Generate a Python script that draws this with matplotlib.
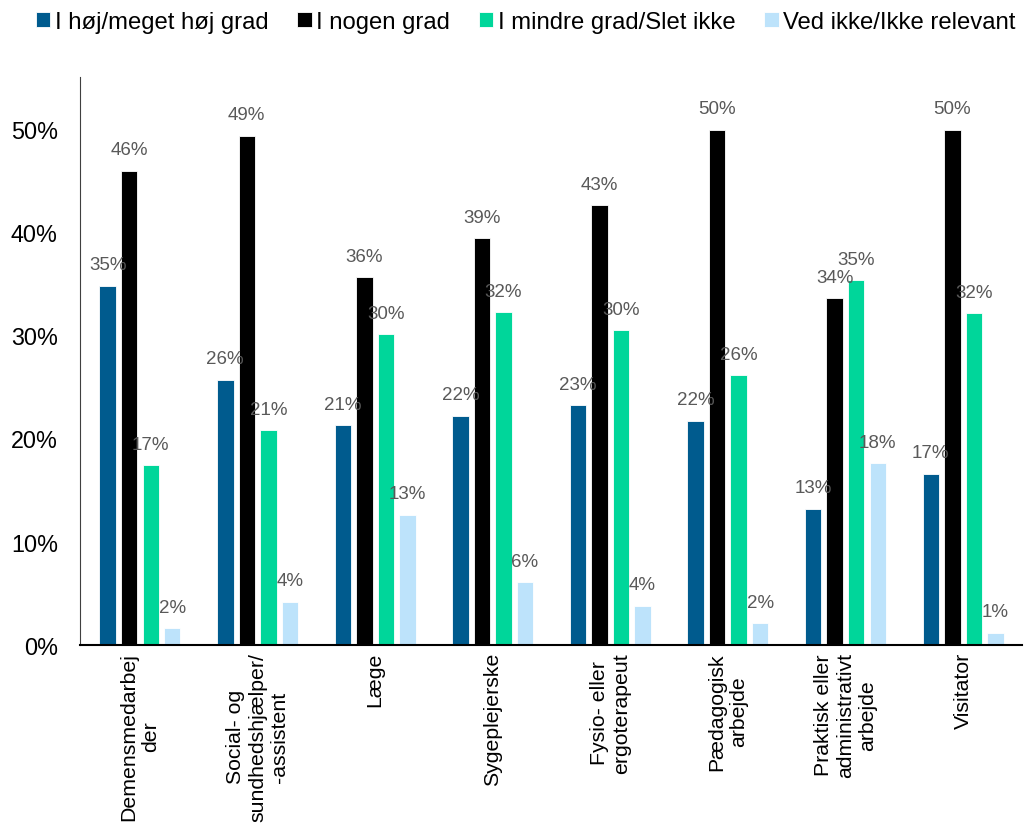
import numpy as np
import matplotlib.pyplot as plt

plt.rcParams['font.family'] = ['Liberation Sans', 'DejaVu Sans']

# Categories and series (shares, in %)
categories = ['Demensmedarbej\nder', 'Social- og\nsundhedshjælper/\n-assistent', 'Læge',
              'Sygeplejerske', 'Fysio- eller\nergoterapeut', 'Pædagogisk\narbejde',
              'Praktisk eller\nadministrativt\narbejde', 'Visitator']
series_names = ['I høj/meget høj grad', 'I nogen grad', 'I mindre grad/Slet ikke',
                'Ved ikke/Ikke relevant']
hoej = [34.8, 25.7, 21.3, 22.2, 23.2, 21.7, 13.2, 16.6]
nogen = [45.9, 49.3, 35.6, 39.4, 42.6, 49.9, 33.6, 49.9]
mindre = [17.4, 20.8, 30.1, 32.2, 30.5, 26.1, 35.3, 32.1]
vedikke = [1.6, 4.2, 12.6, 6.1, 3.8, 2.1, 17.6, 1.2]
colors = ['#005B8E', '#000000', '#00D69A', '#BDE3FB']

fig = plt.figure(figsize=(10.35, 8.28), dpi=100)
ax = fig.add_axes([0.0773, 0.2198, 0.91, 0.686])

x = np.arange(len(categories))
width = 0.14
pitch = 0.183
for i, (vals, name) in enumerate(zip([hoej, nogen, mindre, vedikke], series_names)):
    pos = x + (i - 1.5) * pitch
    bars = ax.bar(pos, vals, width, color=colors[i], edgecolor='white', linewidth=0.6,
                  label=name)
    for b, v in zip(bars, vals):
        ax.annotate(f'{v:.0f}%', (b.get_x() + b.get_width() / 2, v),
                    xytext=(0, 9), textcoords='offset points', ha='center', va='bottom',
                    fontsize=13.5, color='#595959')

ax.set_xlim(-0.51, 7.5)
ax.set_ylim(0, 55)
ax.set_yticks([0, 10, 20, 30, 40, 50])
ax.set_yticklabels([f'{t}%' for t in [0, 10, 20, 30, 40, 50]], fontsize=16.8)
ax.set_xticks(x)
ax.set_xticklabels(categories, rotation=90, fontsize=15.3, ha='center', va='top',
                   multialignment='center')
ax.tick_params(axis='x', length=0, pad=5)
ax.tick_params(axis='y', length=0, pad=16)
ax.spines['top'].set_visible(False)
ax.spines['right'].set_visible(False)
ax.spines['left'].set_color('#404040')
ax.spines['bottom'].set_color('#000000')
ax.spines['bottom'].set_linewidth(1.5)

fig.legend(loc='upper center', bbox_to_anchor=(0.508, 1.012), ncol=4, frameon=False,
           fontsize=17.2, handlelength=0.6, handleheight=0.6, handletextpad=0.2,
           columnspacing=1.2)

fig.savefig('out.png', dpi=100)
